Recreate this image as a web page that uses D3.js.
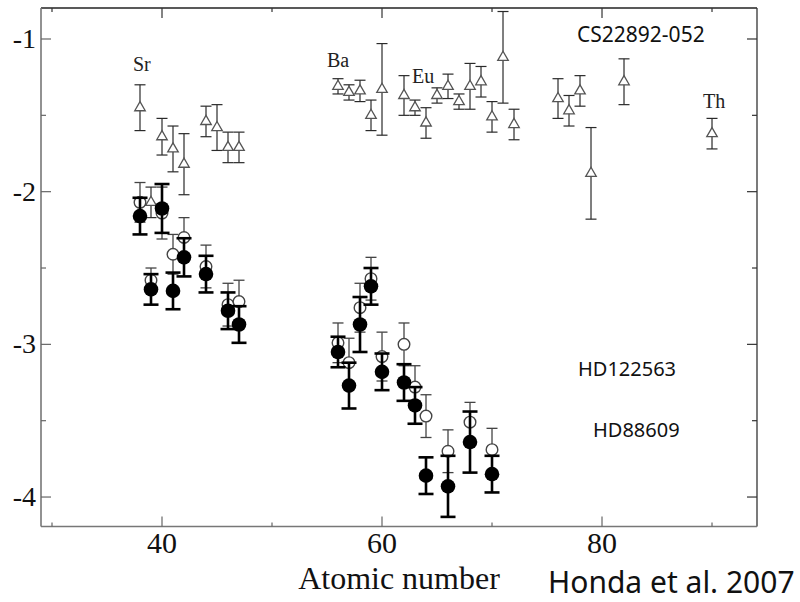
<!DOCTYPE html>
<html>
<head>
<meta charset="UTF-8">
<style>
  body { margin: 0; background: #ffffff; }
  svg { display: block; }
</style>
<script src="https://cdn.jsdelivr.net/npm/d3@7"></script>
</head>
<body>
<svg id="chart" width="800" height="602"></svg>
<script>
// CS22892-052 (open triangles)
const csZ   = [38, 39, 40, 41, 42, 44, 45, 46, 47, 56, 57, 58, 59, 60, 62, 63, 64, 65, 66, 67, 68, 69, 70, 71, 72, 76, 77, 78, 79, 82, 90];
const csVal = [-1.45, -2.07, -1.64, -1.72, -1.82, -1.54, -1.58, -1.71, -1.71, -1.31, -1.35, -1.34, -1.50, -1.33, -1.37, -1.45, -1.55, -1.37, -1.31, -1.41, -1.31, -1.28, -1.51, -1.12, -1.56, -1.39, -1.47, -1.34, -1.88, -1.28, -1.62];
const csErr = [0.15, 0.10, 0.12, 0.15, 0.20, 0.10, 0.15, 0.10, 0.10, 0.05, 0.05, 0.07, 0.10, 0.30, 0.13, 0.05, 0.10, 0.05, 0.08, 0.05, 0.15, 0.10, 0.10, 0.30, 0.10, 0.13, 0.10, 0.10, 0.30, 0.15, 0.10];

// HD122563 (open circles)
const hd1Z   = [38, 39, 40, 41, 42, 44, 46, 47, 56, 57, 58, 59, 60, 62, 63, 64, 66, 68, 70];
const hd1Val = [-2.07, -2.58, -2.14, -2.41, -2.30, -2.49, -2.74, -2.72, -2.99, -3.12, -2.76, -2.57, -3.08, -3.00, -3.28, -3.47, -3.70, -3.51, -3.69];
const hd1Err = [0.13, 0.08, 0.17, 0.13, 0.13, 0.14, 0.14, 0.14, 0.13, 0.16, 0.16, 0.14, 0.16, 0.14, 0.14, 0.14, 0.14, 0.13, 0.14];

// HD88609 (filled circles)
const hd2Z   = [38, 39, 40, 41, 42, 44, 46, 47, 56, 57, 58, 59, 60, 62, 63, 64, 66, 68, 70];
const hd2Val = [-2.16, -2.64, -2.11, -2.65, -2.43, -2.54, -2.78, -2.87, -3.05, -3.27, -2.87, -2.62, -3.18, -3.25, -3.40, -3.86, -3.93, -3.64, -3.85];
const hd2Err = [0.12, 0.10, 0.16, 0.12, 0.125, 0.12, 0.12, 0.12, 0.10, 0.15, 0.18, 0.12, 0.12, 0.12, 0.12, 0.12, 0.20, 0.20, 0.12];

const xTicks = [30, 40, 50, 60, 70, 80, 90];
const xLabels = [40, 60, 80];
const yTicks = [-1, -1.5, -2, -2.5, -3, -3.5, -4];
const yLabels = [-1, -2, -3, -4];

const elemNames = ["Sr", "Ba", "Eu", "Th"];
const starNames = ["CS22892-052", "HD122563", "HD88609"];

const pLeft = 41, pRight = 757, pTop = 8, pBottom = 526.5;

const svg = d3.select("#chart");

const x = d3.scaleLinear().domain([29, 94.09]).range([pLeft, pRight]);
const y = d3.scaleLinear().domain([-4.193, -0.797]).range([pBottom, pTop]);

function zip(zs, vs, es) {
  return zs.map((z, i) => ({z: z, v: vs[i], e: es[i]}));
}
const cs = zip(csZ, csVal, csErr);
const hd1 = zip(hd1Z, hd1Val, hd1Err);
const hd2 = zip(hd2Z, hd2Val, hd2Err);

// frame
svg.append("line").attr("x1", pLeft).attr("x2", pRight).attr("y1", pTop).attr("y2", pTop)
  .attr("stroke", "#222").attr("stroke-width", 1.3);
svg.append("line").attr("x1", pRight).attr("x2", pRight).attr("y1", pTop).attr("y2", pBottom)
  .attr("stroke", "#333").attr("stroke-width", 1.3);
svg.append("line").attr("x1", pLeft).attr("x2", pLeft).attr("y1", pTop).attr("y2", pBottom)
  .attr("stroke", "#777").attr("stroke-width", 1.6);
svg.append("line").attr("x1", pLeft).attr("x2", pRight).attr("y1", pBottom).attr("y2", pBottom)
  .attr("stroke", "#777").attr("stroke-width", 1.6);

// ticks (inward, all four sides)
xTicks.forEach(t => {
  const len = xLabels.includes(t) ? 10 : 4;
  svg.append("line").attr("x1", x(t)).attr("x2", x(t)).attr("y1", pBottom).attr("y2", pBottom - len)
    .attr("stroke", "#666").attr("stroke-width", 1.2);
  svg.append("line").attr("x1", x(t)).attr("x2", x(t)).attr("y1", pTop).attr("y2", pTop + len)
    .attr("stroke", "#333").attr("stroke-width", 1.2);
});
yTicks.forEach(t => {
  const len = yLabels.includes(t) ? 10 : 5;
  svg.append("line").attr("x1", pLeft).attr("x2", pLeft + len).attr("y1", y(t)).attr("y2", y(t))
    .attr("stroke", "#666").attr("stroke-width", 1.2);
  svg.append("line").attr("x1", pRight).attr("x2", pRight - len).attr("y1", y(t)).attr("y2", y(t))
    .attr("stroke", "#333").attr("stroke-width", 1.2);
});

// tick labels
svg.selectAll(".xl").data(xLabels).enter().append("text")
  .attr("x", d => x(d)).attr("y", 553)
  .attr("text-anchor", "middle")
  .attr("font-family", "'Liberation Serif', serif").attr("font-size", 30)
  .attr("fill", "#111")
  .text(d => d);
svg.selectAll(".yl").data(yLabels).enter().append("text")
  .attr("x", 36).attr("y", d => y(d) + 9)
  .attr("text-anchor", "end")
  .attr("font-family", "'Liberation Serif', serif").attr("font-size", 28)
  .attr("fill", "#111")
  .text(d => d);

svg.append("text").attr("x", 399).attr("y", 589).attr("text-anchor", "middle")
  .attr("font-family", "'Liberation Serif', serif").attr("font-size", 32)
  .attr("fill", "#111").text("Atomic number");

// error bars
function errBars(data, cap, width, color) {
  const g = svg.append("g").attr("stroke", color).attr("stroke-width", width).attr("fill", "none");
  data.forEach(d => {
    const cx = x(d.z), y1 = y(d.v + d.e), y2 = y(d.v - d.e);
    g.append("line").attr("x1", cx).attr("x2", cx).attr("y1", y1).attr("y2", y2);
    g.append("line").attr("x1", cx - cap / 2).attr("x2", cx + cap / 2).attr("y1", y1).attr("y2", y1);
    g.append("line").attr("x1", cx - cap / 2).attr("x2", cx + cap / 2).attr("y1", y2).attr("y2", y2);
  });
}

// CS22892-052
errBars(cs, 11, 1.2, "#2a2a2a");
svg.append("g").selectAll("path").data(cs).enter().append("path")
  .attr("d", d3.symbol(d3.symbolTriangle, 48))
  .attr("transform", d => "translate(" + x(d.z) + "," + y(d.v) + ")")
  .attr("fill", "#ffffff").attr("stroke", "#555").attr("stroke-width", 1.3);

// HD122563
errBars(hd1, 11, 1.3, "#444");
svg.append("g").selectAll("circle").data(hd1).enter().append("circle")
  .attr("cx", d => x(d.z)).attr("cy", d => y(d.v)).attr("r", 5.8)
  .attr("fill", "#ffffff").attr("stroke", "#444").attr("stroke-width", 1.4);

// HD88609
errBars(hd2, 15, 2.6, "#000");
svg.append("g").selectAll("circle").data(hd2).enter().append("circle")
  .attr("cx", d => x(d.z)).attr("cy", d => y(d.v)).attr("r", 7.3)
  .attr("fill", "#000");

// element labels
const elemPos = [[133, 71], [327, 67], [412, 83], [703, 108]];
elemNames.forEach((n, i) => {
  svg.append("text").attr("x", elemPos[i][0]).attr("y", elemPos[i][1])
    .attr("font-family", "'Liberation Serif', serif").attr("font-size", 20)
    .attr("fill", "#222").text(n);
});

// star labels
const starPos = [[577, 42], [578, 376], [593, 437]];
const starSize = [21, 20, 20];
starNames.forEach((n, i) => {
  svg.append("text").attr("x", starPos[i][0]).attr("y", starPos[i][1])
    .attr("font-family", "'Noto Sans', sans-serif").attr("font-size", starSize[i])
    .attr("fill", "#111").text(n);
});

svg.append("text").attr("x", 548).attr("y", 593)
  .attr("font-family", "'Noto Sans', sans-serif").attr("font-size", 30)
  .attr("fill", "#111").text("Honda et al. 2007");
</script>
</body>
</html>
